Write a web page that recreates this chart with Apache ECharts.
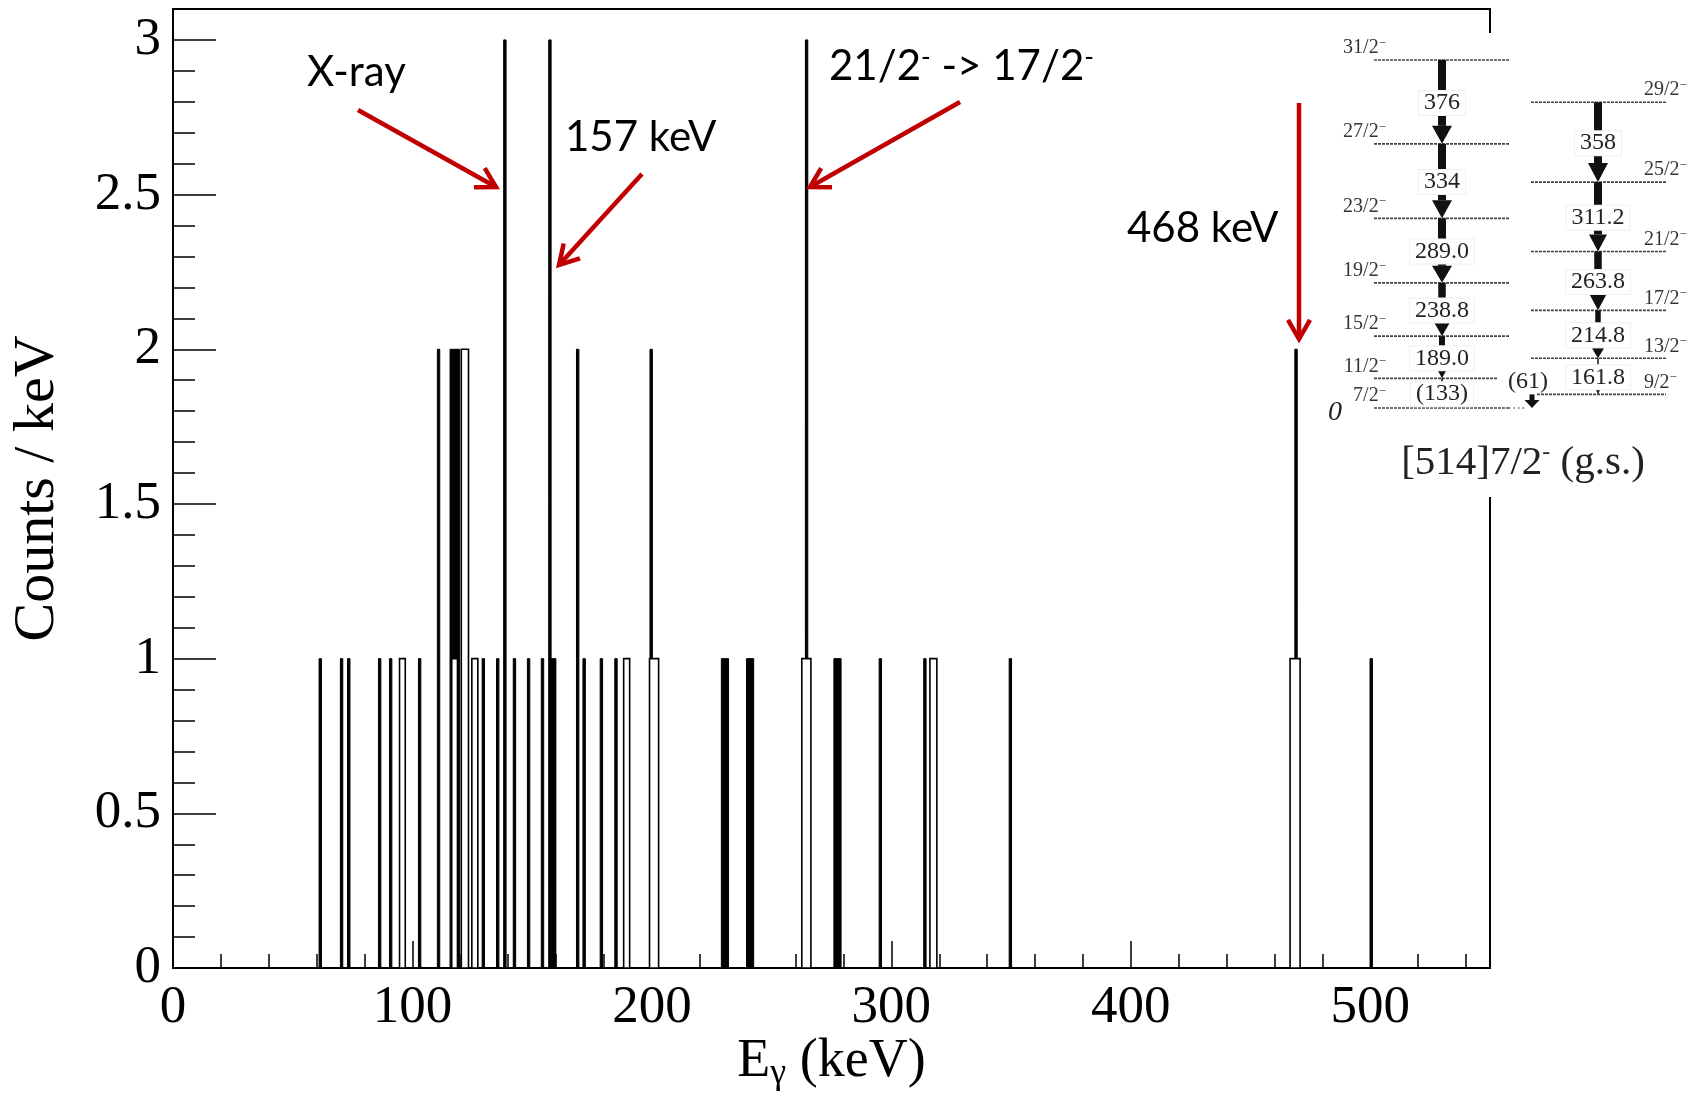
<!DOCTYPE html>
<html><head><meta charset="utf-8">
<script src="https://cdn.jsdelivr.net/npm/echarts@6/dist/echarts.min.js"></script>
<style>html,body{margin:0;padding:0;background:#fff}#c{width:1704px;height:1097px}</style>
</head><body><div id="c"></div>
<script>
// ---------- DATA ----------
// Filled (black) histogram, 1 keV bins: bin centre (keV) and counts / keV
const blackCenters = [61.5,70.4,73.4,86.3,90.9,103,110.9,116.2,117.2,118.2,119.2,129.6,135.6,138.6,142.6,148.5,154.3,157.4,158.4,159.4,169,171.7,178.9,185,199.7,229.5,230.5,231.5,240,241,242,264.6,276.5,277.5,278.5,295.4,314,349.7,469,500.4];
const blackCounts  = [1,1,1,1,1,1,2,2,2,2,2,1,1,3,1,1,1,3,1,1,2,1,1,1,2,1,1,1,1,1,1,3,1,1,1,1,1,1,2,1];
// Open (white) histogram: bin low edge, high edge (keV), counts / keV
const openLow    = [94.6,116.4,120.4,124.8,188.2,199.0,262.6,316.1,466.5];
const openHigh   = [97.0,118.8,123.4,127.3,190.7,202.8,266.4,319.0,470.7];
const openCounts = [1,1,2,1,1,1,1,1,1];
// Axis ticks
const xTickStep = 100, xMax = 550;
const yTickStep = 0.5, yMax = 3.1;
// Annotations
const annoTexts = ['X-ray','157 keV','21/2{s|-} -> 17/2{s|-}','468 keV'];
// Level scheme of the inset (level energies in keV)
const leftSpins  = ['7/2','11/2','15/2','19/2','23/2','27/2','31/2'];
const leftLevels = [0,133,322,561,850,1184,1560];
const leftGammas = ['(133)','189.0','238.8','289.0','334','376'];
const rightSpins  = ['9/2','13/2','17/2','21/2','25/2','29/2'];
const rightLevels = [61,222.8,437.6,701.4,1012.6,1370.6];
const rightGammas = ['161.8','214.8','263.8','311.2','358'];
const linkGamma = '(61)';
const bandCaption = '[514]7/2{s|-} (g.s.)';

// ---------- CHART ----------
const chart = echarts.init(document.getElementById('c'), null, {renderer:'canvas'});
const SERIF = 'Liberation Serif';
const RED = '#c00000';

function renderBlack(params, api){
  const c = api.value(0), v = api.value(1);
  const p0 = api.coord([c-0.5, v]);
  const p1 = api.coord([c+0.5, 0]);
  return {type:'rect', shape:{x:p0[0], y:p0[1], width:p1[0]-p0[0], height:p1[1]-p0[1]},
    style:{fill:'#000', stroke:'#000', lineWidth:1}};
}
function renderOpen(params, api){
  const lo = api.value(0), hi = api.value(1), v = api.value(2);
  const p0 = api.coord([lo, v]);
  const p1 = api.coord([hi, 0]);
  return {type:'rect', shape:{x:p0[0], y:p0[1], width:p1[0]-p0[0], height:p1[1]-p0[1]},
    style:{fill:'#fff', stroke:'#000', lineWidth:1.6}};
}

function arrow(x1,y1,x2,y2){
  const ang = Math.atan2(y2-y1, x2-x1), L = 22, a = Math.PI/6;
  const p1 = [x2 - L*Math.cos(ang-a), y2 - L*Math.sin(ang-a)];
  const p2 = [x2 - L*Math.cos(ang+a), y2 - L*Math.sin(ang+a)];
  return [
    {type:'line', z:120, shape:{x1:x1,y1:y1,x2:x2,y2:y2}, style:{stroke:RED, lineWidth:4.5}},
    {type:'polyline', z:120, shape:{points:[p1,[x2,y2],p2]}, style:{stroke:RED, lineWidth:4.5, fill:null, lineJoin:'miter'}}
  ];
}
function annoText(txt, x, y){
  return {type:'text', z:120, x:x, y:y, style:{text:txt, fontFamily:'Lato', fontSize:42, fill:'#000',
    align:'left', verticalAlign:'middle',
    rich:{s:{fontFamily:'Lato', fontSize:26, fill:'#000', verticalAlign:'top', lineHeight:24}}}};
}

// inset level scheme
const yLev = E => 408 - E*0.2231;
const G = [];
G.push({type:'rect', z:50, shape:{x:1322, y:33, width:382, height:464}, style:{fill:'#fff'}});
function levelLine(x0, x1, y){
  G.push({type:'line', z:100, shape:{x1:x0, y1:y, x2:x1, y2:y}, style:{stroke:'#444', lineWidth:1.6, lineDash:[3,1]}});
}
function spinLabel(txt, x, y, align){
  G.push({type:'text', z:101, x:x, y:y, style:{text:'{a|'+txt+'}{s|\u2212}', align:align, verticalAlign:'middle',
    rich:{a:{fontFamily:SERIF, fontSize:20, fill:'#333', lineHeight:22}, s:{fontFamily:SERIF, fontSize:13, fill:'#333', verticalAlign:'top', lineHeight:14}}}});
}
function gammaArrow(x, Ehi, Elo, w, hw, hh){
  const yt = yLev(Ehi), yb = yLev(Elo);
  G.push({type:'rect', z:100, shape:{x:x-w/2, y:yt, width:w, height:(yb-hh)-yt}, style:{fill:'#111'}});
  G.push({type:'polygon', z:100, shape:{points:[[x-hw/2, yb-hh],[x+hw/2, yb-hh],[x, yb]]}, style:{fill:'#111'}});
}
function gammaLabel(txt, x, y){
  G.push({type:'text', z:102, x:x, y:y, style:{text:txt, fontFamily:SERIF, fontSize:24, fill:'#222', align:'center', verticalAlign:'middle',
    backgroundColor:'#fff', borderColor:'#f0f0f0', borderWidth:1, padding:[0,5]}});
}
const lW = [1.5,6,7.5,8,8,8], lH = [[7,5],[12,11],[16,14],[20,17],[20,18],[20,18]];
const rW = [1.5,5.5,7.5,8,8],  rH = [[6,7],[12,10],[17,16],[18,17],[20,19]];
leftLevels.forEach((E,i)=>{
  const x1 = (i===1) ? 1497 : 1509;
  levelLine(1374, x1, yLev(E));
  spinLabel(leftSpins[i], 1386, yLev(E)-12, 'right');
});
G.push({type:'line', z:100, shape:{x1:1509, y1:yLev(0), x2:1527, y2:yLev(0)}, style:{stroke:'#666', lineWidth:1.5, lineDash:[1.5,3]}});
rightLevels.forEach((E,i)=>{
  levelLine(i===0 ? 1537 : 1531, 1666, yLev(E));
  spinLabel(rightSpins[i], 1644, yLev(E)-12, 'left');
});
for (let i=0;i<leftGammas.length;i++){
  gammaArrow(1442, leftLevels[i+1], leftLevels[i], lW[i], lH[i][0], lH[i][1]);
}
for (let i=0;i<rightGammas.length;i++){
  gammaArrow(1598, rightLevels[i+1], rightLevels[i], rW[i], rH[i][0], rH[i][1]);
}
gammaArrow(1532, rightLevels[0], leftLevels[0], 5, 15, 8);
for (let i=0;i<leftGammas.length;i++){
  gammaLabel(leftGammas[i], 1442, (yLev(leftLevels[i+1])+yLev(leftLevels[i]))/2 + 1);
}
for (let i=0;i<rightGammas.length;i++){
  gammaLabel(rightGammas[i], 1598, (yLev(rightLevels[i+1])+yLev(rightLevels[i]))/2 + 1);
}
G.push({type:'text', z:102, x:1528, y:382, style:{text:linkGamma, fontFamily:SERIF, fontSize:24, fill:'#222', align:'center', verticalAlign:'middle'}});
G.push({type:'text', z:102, x:1335, y:413, style:{text:'0', fontFamily:SERIF, fontStyle:'italic', fontSize:28, fill:'#222', align:'center', verticalAlign:'middle'}});
G.push({type:'text', z:102, x:1523, y:463, style:{text:'{a|'+bandCaption.replace('{s|-}','}{s|-}{a|')+'}', align:'center', verticalAlign:'middle',
  rich:{a:{fontFamily:SERIF, fontSize:41, fill:'#222', lineHeight:44}, s:{fontFamily:SERIF, fontSize:24, fill:'#222', verticalAlign:'top', lineHeight:24}}}});

// annotations
G.push(annoText(annoTexts[0], 307, 72));
G.push(annoText(annoTexts[1], 565, 137));
G.push(annoText(annoTexts[2], 829, 66));
G.push(annoText(annoTexts[3], 1127, 228));
G.push(...arrow(358,110,496,187));
G.push(...arrow(642,174,559,265));
G.push(...arrow(960,102,810,187));
G.push(...arrow(1299,103,1299,339));

const tickStyle = {color:'#000', width:1.5};
const option = {
  animation:false,
  backgroundColor:'#fff',
  grid:{left:173, top:9, width:1317, height:959, show:true, borderColor:'#000', borderWidth:2, outerBoundsMode:'none'},
  xAxis:{type:'value', min:0, max:xMax, interval:xTickStep,
    axisLine:{show:true, onZero:false, lineStyle:{color:'#000', width:2}},
    axisTick:{show:true, inside:true, length:27, lineStyle:tickStyle},
    minorTick:{show:true, splitNumber:5, length:14, lineStyle:tickStyle},
    splitLine:{show:false}, minorSplitLine:{show:false},
    axisLabel:{fontFamily:SERIF, fontSize:53, color:'#000', margin:14, showMaxLabel:false},
    name:'{e|E}{g|\u03b3}{e| (keV)}', nameLocation:'middle', nameGap:64, nameMoveOverlap:false,
    nameTextStyle:{rich:{e:{fontFamily:SERIF, fontSize:54, color:'#000', lineHeight:60},
                         g:{fontFamily:SERIF, fontSize:36, color:'#000', verticalAlign:'bottom', lineHeight:40}}}
  },
  yAxis:{type:'value', min:0, max:yMax, interval:yTickStep,
    axisLine:{show:true, lineStyle:{color:'#000', width:2}},
    axisTick:{show:true, inside:true, length:43, lineStyle:tickStyle},
    minorTick:{show:true, splitNumber:5, length:22, lineStyle:tickStyle},
    splitLine:{show:false}, minorSplitLine:{show:false},
    axisLabel:{fontFamily:SERIF, fontSize:53, color:'#000', margin:12, showMaxLabel:false},
    name:'Counts / keV', nameLocation:'middle', nameRotate:90, nameGap:106, nameMoveOverlap:false,
    nameTextStyle:{fontFamily:SERIF, fontSize:58, color:'#000'}
  },
  series:[
    {type:'custom', name:'filled', z:2, renderItem:renderBlack, encode:{x:0, y:1},
     data: blackCenters.map((c,i)=>[c, blackCounts[i]])},
    {type:'custom', name:'open', z:3, renderItem:renderOpen, encode:{x:[0,1], y:2},
     data: openLow.map((lo,i)=>[lo, openHigh[i], openCounts[i]])}
  ],
  graphic: G
};
chart.setOption(option);
</script>
</body></html>
